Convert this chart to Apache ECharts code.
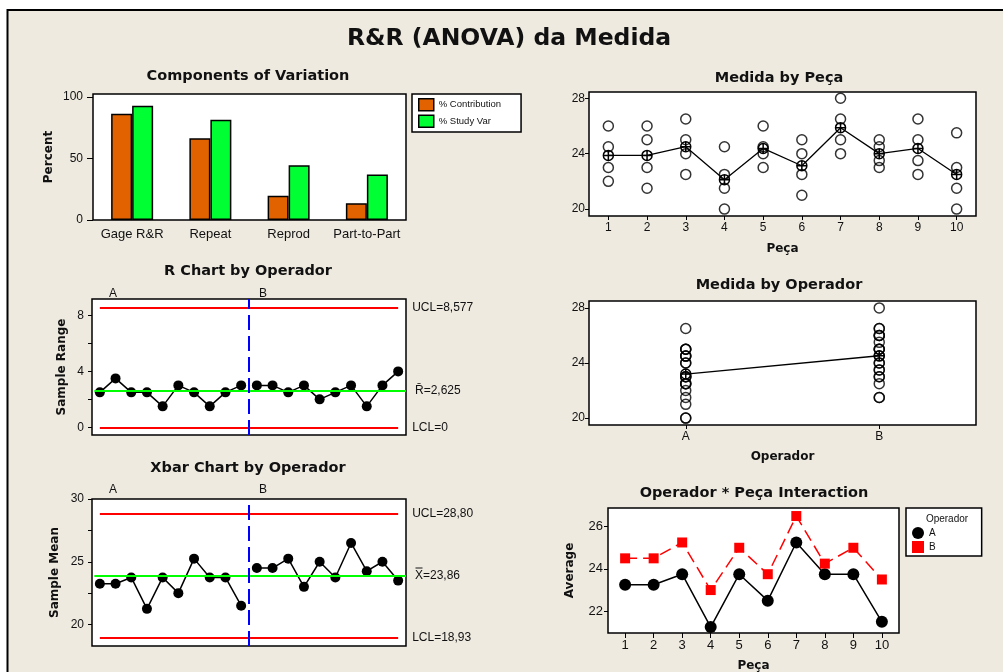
<!DOCTYPE html>
<html lang="pt">
<head>
<meta charset="UTF-8">
<title>R&R (ANOVA) da Medida</title>
<script src="https://cdn.jsdelivr.net/npm/echarts@6/dist/echarts.min.js"></script>
<style>
    html, body { margin: 0; padding: 0; background: #fff; }
    #chart { width: 1003px; height: 672px; }
</style>
</head>
<body>
<div id="chart"></div>
<script>
// componentes de variação (%)
var components = ['Gage R&R', 'Repeat', 'Reprod', 'Part-to-Part'];
var pctContribution = [86.3, 66.5, 19.8, 13.7];
var pctStudyVar = [92.9, 81.5, 44.5, 37.0];

var parts = ['1', '2', '3', '4', '5', '6', '7', '8', '9', '10'];
var operators = ['A', 'B'];

// duas leituras por peça e operador
var medidaA1 = [22, 21.5, 22.5, 20, 23, 21, 24, 23, 22.5, 20];
var medidaA2 = [24.5, 25, 25, 22.5, 24.5, 24, 26.5, 24.5, 25, 23];
var medidaB1 = [23, 23, 24, 21.5, 24, 22.5, 25, 23.5, 23.5, 21.5];
var medidaB2 = [26, 26, 26.5, 24.5, 26, 25, 28, 25, 26.5, 25.5];
var partMeans = [23.875, 23.875, 24.5, 22.125, 24.375, 23.125, 25.875, 24, 24.375, 22.5];
var operatorMeans = [23.2, 24.525];

// amplitudes e médias por subgrupo
var rangeA = [2.5, 3.5, 2.5, 2.5, 1.5, 3, 2.5, 1.5, 2.5, 3];
var rangeB = [3, 3, 2.5, 3, 2, 2.5, 3, 1.5, 3, 4];
var meanA = [23.25, 23.25, 23.75, 21.25, 23.75, 22.5, 25.25, 23.75, 23.75, 21.5];
var meanB = [24.5, 24.5, 25.25, 23, 25, 23.75, 26.5, 24.25, 25, 23.5];

var rLimits = [8.577, 2.625, 0];
var rLimitLabels = ['UCL=8,577', 'R\u0304=2,625', 'LCL=0'];
var xbarLimits = [28.80, 23.86, 18.93];
var xbarLimitLabels = ['UCL=28,80', 'X\u033F=23,86', 'LCL=18,93'];

var RED = '#ff0000', GREEN = '#00ff00', BLUE = '#0000ff';
var ORANGE = '#e36200', LIME = '#00ff33';
var plusCircle = 'path://M0,-10A10,10,0,1,1,0,10A10,10,0,1,1,0,-10ZM-10,0L10,0M0,-10L0,10';

var labelFont = { fontFamily: 'Liberation Sans', fontSize: 12, color: '#111' };
var nameFont = { fontFamily: 'DejaVu Sans', fontWeight: 'bold', fontSize: 12, color: '#111' };

function gridBox(left, top, width, height) {
    return {
        left: left, top: top, width: width, height: height, show: true,
        backgroundColor: '#fff', borderColor: '#000', borderWidth: 1.5,
        outerBoundsMode: 'none'
    };
}

function yAxis(gi, min, max, labels, ticks, name, gap, margin, tickLen, fs) {
    return {
        type: 'value', gridIndex: gi, min: min, max: max,
        name: name, nameLocation: 'middle', nameGap: gap, nameTextStyle: nameFont,
        axisLine: { show: false },
        axisTick: { show: true, length: tickLen, customValues: ticks, lineStyle: { color: '#000' } },
        axisLabel: Object.assign({ customValues: labels, margin: margin }, labelFont, { fontSize: fs || 12 }),
        splitLine: { show: false }
    };
}

function catAxis(gi, data, name, gap, ticks, margin, fs) {
    return {
        type: 'category', gridIndex: gi, data: data,
        name: name, nameLocation: 'middle', nameGap: gap, nameTextStyle: nameFont,
        axisLine: { show: false },
        axisTick: { show: ticks, alignWithLabel: true, length: 4, lineStyle: { color: '#000' } },
        axisLabel: Object.assign({ margin: margin, interval: 0 }, labelFont, { fontSize: fs || 12 }),
        splitLine: { show: false }
    };
}

function limitLines(limits, labels, first, last) {
    var d = [];
    limits.forEach(function (v, i) {
        var center = i === 1;
        d.push([{
            coord: [center ? first - 0.35 : first, v],
            lineStyle: { color: center ? GREEN : RED, width: 2, type: 'solid' },
            label: { show: true, position: 'end', distance: center ? 9 : 14, formatter: labels[i] }
        }, { coord: [center ? last + 0.5 : last, v] }]);
    });
    d.push({ xAxis: 10.5, lineStyle: { color: BLUE, width: 2, type: [15, 6] }, label: { show: false } });
    return {
        silent: true, symbol: ['none', 'none'], animation: false,
        label: Object.assign({}, labelFont),
        data: d
    };
}

function groupLine(name, gi, values, offset, markLine) {
    var s = {
        name: name, type: 'line', xAxisIndex: gi, yAxisIndex: gi,
        data: values.map(function (v, i) { return [i + 1 + offset, v]; }),
        symbol: 'circle', symbolSize: 10,
        itemStyle: { color: '#000' }, lineStyle: { color: '#000', width: 1.5 }
    };
    if (markLine) s.markLine = markLine;
    return s;
}

var pecaPoints = [];
parts.forEach(function (p, i) {
    [medidaA1, medidaA2, medidaB1, medidaB2].forEach(function (arr) { pecaPoints.push([p, arr[i]]); });
});
var operPoints = medidaA1.concat(medidaA2).map(function (v) { return ['A', v]; })
    .concat(medidaB1.concat(medidaB2).map(function (v) { return ['B', v]; }));

var hollow = { color: 'transparent', borderColor: '#000', borderWidth: 1.5 };

function text(x, y, str, style) {
    return {
        type: 'text', x: x, y: y, z: 100,
        style: Object.assign({ text: str, align: 'center', verticalAlign: 'middle', fill: '#111' }, style)
    };
}
var titleFont = { font: 'bold 14.5px "DejaVu Sans"' };
var abFont = { font: '12px "Liberation Sans"' };

var chart = echarts.init(document.getElementById('chart'));
chart.setOption({
    animation: false,
    backgroundColor: '#eeeae0',
    graphic: [
        { type: 'rect', shape: { x: 0, y: 0, width: 1003, height: 9 }, style: { fill: '#fff' } },
        { type: 'rect', shape: { x: 0, y: 0, width: 7, height: 672 }, style: { fill: '#fff' } },
        { type: 'line', shape: { x1: 7, y1: 10, x2: 1003, y2: 10 }, style: { stroke: '#000', lineWidth: 2 } },
        { type: 'line', shape: { x1: 7.5, y1: 9, x2: 7.5, y2: 672 }, style: { stroke: '#000', lineWidth: 2 } },
        text(509, 39, 'R&R (ANOVA) da Medida', { font: 'bold 23.5px "DejaVu Sans"' }),
        text(248, 76, 'Components of Variation', titleFont),
        text(779, 78, 'Medida by Peça', titleFont),
        text(248, 271, 'R Chart by Operador', titleFont),
        text(779, 285, 'Medida by Operador', titleFont),
        text(248, 468, 'Xbar Chart by Operador', titleFont),
        text(754, 493, 'Operador * Peça Interaction', titleFont),
        text(113, 294, 'A', abFont), text(263, 294, 'B', abFont),
        text(113, 490, 'A', abFont), text(263, 490, 'B', abFont),
        text(947, 519, 'Operador', { font: '10px "Liberation Sans"' })
    ],
    legend: [{
        left: 412, top: 94, orient: 'vertical', selectedMode: false,
        padding: [4, 20, 4, 6], itemGap: 3, itemWidth: 15, itemHeight: 12,
        backgroundColor: '#fff', borderColor: '#000', borderWidth: 1.5, borderRadius: 0,
        icon: 'rect', itemStyle: { borderColor: '#000', borderWidth: 1.5 },
        textStyle: { fontFamily: 'Liberation Sans', fontSize: 9.5, color: '#111' },
        data: ['% Contribution', '% Study Var']
    }, {
        left: 906, top: 508, orient: 'vertical', selectedMode: false,
        padding: [19, 46, 3, 6], itemGap: 2, itemWidth: 12, itemHeight: 12, itemTextGap: 3,
        backgroundColor: '#fff', borderColor: '#000', borderWidth: 1.5, borderRadius: 0,
        textStyle: { fontFamily: 'Liberation Sans', fontSize: 10, color: '#111' },
        data: [{ name: 'A', icon: 'circle' }, { name: 'B', icon: 'rect' }]
    }],
    grid: [
        gridBox(93, 94, 313, 126),
        gridBox(589, 92, 387, 124),
        gridBox(92, 299, 314, 136),
        gridBox(589, 301, 387, 124),
        gridBox(92, 499, 314, 147),
        gridBox(608, 508, 291, 125)
    ],
    xAxis: [
        catAxis(0, components, '', 0, false, 8, 13),
        catAxis(1, parts, 'Peça', 27, true, 6),
        { type: 'value', gridIndex: 2, min: 0.5, max: 20.5, show: false },
        catAxis(3, operators, 'Operador', 26, true, 6),
        { type: 'value', gridIndex: 4, min: 0.5, max: 20.5, show: false },
        {
            type: 'value', gridIndex: 5, min: 0.4, max: 10.6,
            name: 'Peça', nameLocation: 'middle', nameGap: 27, nameTextStyle: nameFont,
            axisLine: { show: false },
            axisTick: { show: true, length: 5, customValues: [1, 2, 3, 4, 5, 6, 7, 8, 9, 10], lineStyle: { color: '#000' } },
            axisLabel: Object.assign({ customValues: [1, 2, 3, 4, 5, 6, 7, 8, 9, 10], margin: 6 }, labelFont, { fontSize: 13 }),
            splitLine: { show: false }
        }
    ],
    yAxis: [
        yAxis(0, 0, 102.4, [0, 50, 100], [0, 50, 100], 'Percent', 38, 10, 6),
        yAxis(1, 19.5, 28.45, [20, 24, 28], [20, 24, 28], '', 0, 4, 4),
        yAxis(2, -0.55, 9.18, [0, 4, 8], [0, 2, 4, 6, 8], 'Sample Range', 24, 8, 4),
        yAxis(3, 19.5, 28.5, [20, 24, 28], [20, 24, 28], '', 0, 4, 4),
        yAxis(4, 18.29, 30, [20, 25, 30], [20, 22.5, 25, 27.5, 30], 'Sample Mean', 31, 8, 4),
        yAxis(5, 20.97, 26.88, [22, 24, 26], [22, 24, 26], 'Average', 32, 5, 4, 13)
    ],
    series: [
        {
            name: '% Contribution', type: 'bar', xAxisIndex: 0, yAxisIndex: 0,
            data: pctContribution, barWidth: 21, barGap: 0,
            itemStyle: { color: ORANGE, borderColor: '#000', borderWidth: 1.5 }
        },
        {
            name: '% Study Var', type: 'bar', xAxisIndex: 0, yAxisIndex: 0,
            data: pctStudyVar, barWidth: 21, barGap: 0,
            itemStyle: { color: LIME, borderColor: '#000', borderWidth: 1.5 }
        },
        {
            name: 'Medida', type: 'scatter', xAxisIndex: 1, yAxisIndex: 1,
            data: pecaPoints, symbol: 'circle', symbolSize: 10, itemStyle: hollow
        },
        {
            name: 'Média por peça', type: 'line', xAxisIndex: 1, yAxisIndex: 1,
            data: partMeans, symbol: plusCircle, symbolSize: 10, itemStyle: hollow,
            lineStyle: { color: '#000', width: 1.3 }
        },
        groupLine('R A', 2, rangeA, 0, limitLines(rLimits, rLimitLabels, 1, 20)),
        groupLine('R B', 2, rangeB, 10),
        {
            name: 'Medida oper', type: 'scatter', xAxisIndex: 3, yAxisIndex: 3,
            data: operPoints, symbol: 'circle', symbolSize: 10, itemStyle: hollow
        },
        {
            name: 'Média por operador', type: 'line', xAxisIndex: 3, yAxisIndex: 3,
            data: operatorMeans, symbol: plusCircle, symbolSize: 10, itemStyle: hollow,
            lineStyle: { color: '#000', width: 1.3 }
        },
        groupLine('Xbar A', 4, meanA, 0, limitLines(xbarLimits, xbarLimitLabels, 1, 20)),
        groupLine('Xbar B', 4, meanB, 10),
        {
            name: 'A', type: 'line', xAxisIndex: 5, yAxisIndex: 5,
            data: meanA.map(function (v, i) { return [i + 1, v]; }),
            symbol: 'circle', symbolSize: 12,
            itemStyle: { color: '#000' }, lineStyle: { color: '#000', width: 1.5 }
        },
        {
            name: 'B', type: 'line', xAxisIndex: 5, yAxisIndex: 5,
            data: meanB.map(function (v, i) { return [i + 1, v]; }),
            symbol: 'rect', symbolSize: 10,
            itemStyle: { color: RED }, lineStyle: { color: RED, width: 1.5, type: [12, 6] }
        }
    ]
});
</script>
</body>
</html>
